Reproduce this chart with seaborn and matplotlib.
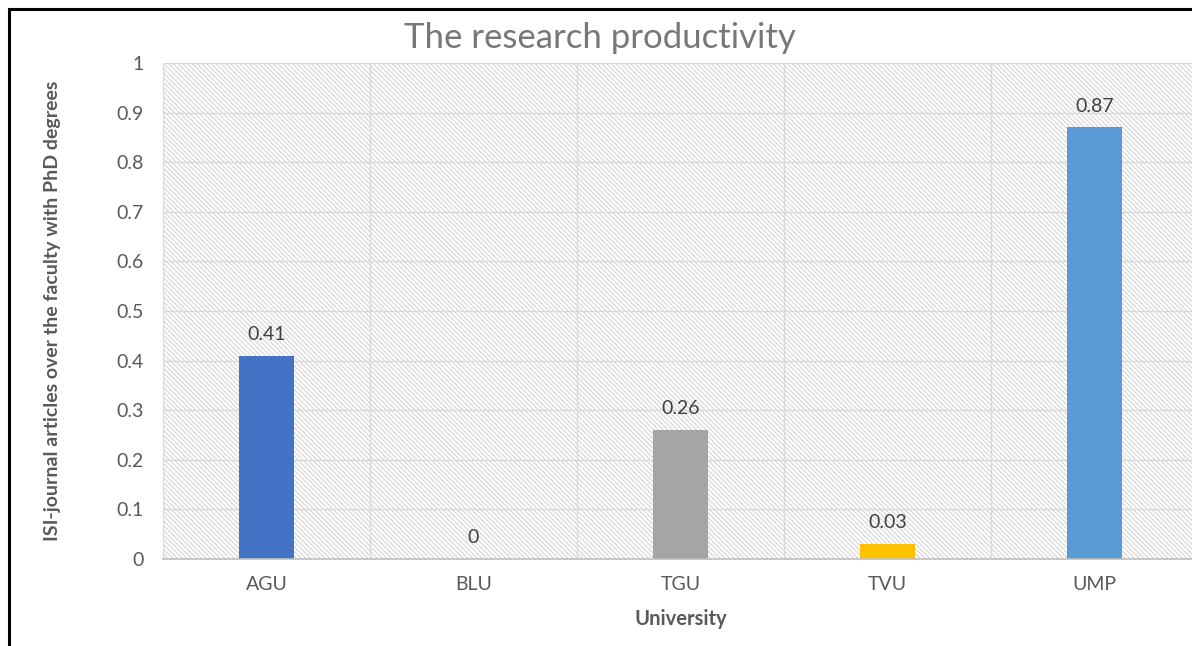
import matplotlib
matplotlib.use("Agg")
import matplotlib.pyplot as plt
from matplotlib.patches import Rectangle
import numpy as np
import pandas as pd
import seaborn as sns

# Research output per university
universities = ["AGU", "BLU", "TGU", "TVU", "UMP"]
productivity = [0.41, 0.0, 0.26, 0.03, 0.87]
bar_colors = ["#4472C4", "#ED7D31", "#A5A5A5", "#FFC000", "#5B9BD5"]
y_ticks = [0, 0.1, 0.2, 0.3, 0.4, 0.5, 0.6, 0.7, 0.8, 0.9, 1]
y_tick_labels = ["0", "0.1", "0.2", "0.3", "0.4", "0.5", "0.6", "0.7", "0.8", "0.9", "1"]

title = "The research productivity"
x_label = "University"
y_label = "ISI-journal articles over the faculty with PhD degrees"

sns.set_theme(style="white")
plt.rcParams["font.family"] = ["Lato", "DejaVu Sans"]
plt.rcParams["hatch.color"] = "#d4d4d4"
plt.rcParams["hatch.linewidth"] = 0.8

df = pd.DataFrame({"University": universities, "Value": productivity})

W, H = 1192, 646
fig = plt.figure(figsize=(W / 100, H / 100), dpi=100)
fig.patch.set_facecolor("white")

# plot area runs slightly past the right edge of the canvas
ax = fig.add_axes([163 / W, 87 / H, 1035 / W, 496 / H])
ax.set_facecolor("white")

# fine diagonal pattern fill behind the bars
bg = Rectangle((0, 0), 1, 1, transform=ax.transAxes, facecolor="white",
               edgecolor="#d4d4d4", linewidth=0, hatch="\\" * 7, zorder=0.1)
ax.add_patch(bg)

sns.barplot(data=df, x="University", y="Value", hue="University",
            palette=dict(zip(universities, bar_colors)), width=0.27,
            legend=False, saturation=1, linewidth=0, ax=ax, zorder=2)

ax.set_xlim(-0.5, 4.5)
ax.set_ylim(0, 1)
ax.set_yticks(y_ticks)
ax.set_yticklabels(y_tick_labels)
ax.set_xticks(range(len(universities)))
ax.set_xticklabels(universities)
ax.set_xticks(np.arange(-0.5, 5.0, 1.0), minor=True)

ax.set_axisbelow(True)
ax.grid(axis="y", which="major", color="#d9d9d9", linewidth=1.0)
ax.grid(axis="x", which="minor", color="#d9d9d9", linewidth=1.0)
ax.grid(axis="x", which="major", visible=False)

for s in ["top", "right", "left"]:
    ax.spines[s].set_visible(False)
ax.spines["bottom"].set_color("#bfbfbf")
ax.spines["bottom"].set_linewidth(1.2)

ax.tick_params(axis="both", which="both", length=0, labelsize=14, labelcolor="#595959")
ax.tick_params(axis="y", pad=14)
ax.tick_params(axis="x", pad=12)

# value labels above each bar
for i, v in enumerate(productivity):
    ax.text(i, v + 0.026, f"{v:g}", ha="center", va="bottom",
            fontsize=14, color="#404040", zorder=3)

ax.set_xlabel(x_label, fontsize=14.5, fontweight="bold", color="#595959", labelpad=12)
ax.set_ylabel(y_label, fontsize=14, fontweight="bold", color="#595959", labelpad=0)
ax.yaxis.set_label_coords(-0.099, 0.5)

fig.text(600 / W, 1 - 38 / H, title, ha="center", va="center",
         fontsize=25, color="#777777")

# frame around the chart
frame = Rectangle((9 / W, -0.02), 1.05, 1 - 9 / H + 0.02, transform=fig.transFigure,
                  fill=False, edgecolor="black", linewidth=2.2)
fig.patches.append(frame)

fig.savefig("out.png", dpi=100, facecolor="white")
